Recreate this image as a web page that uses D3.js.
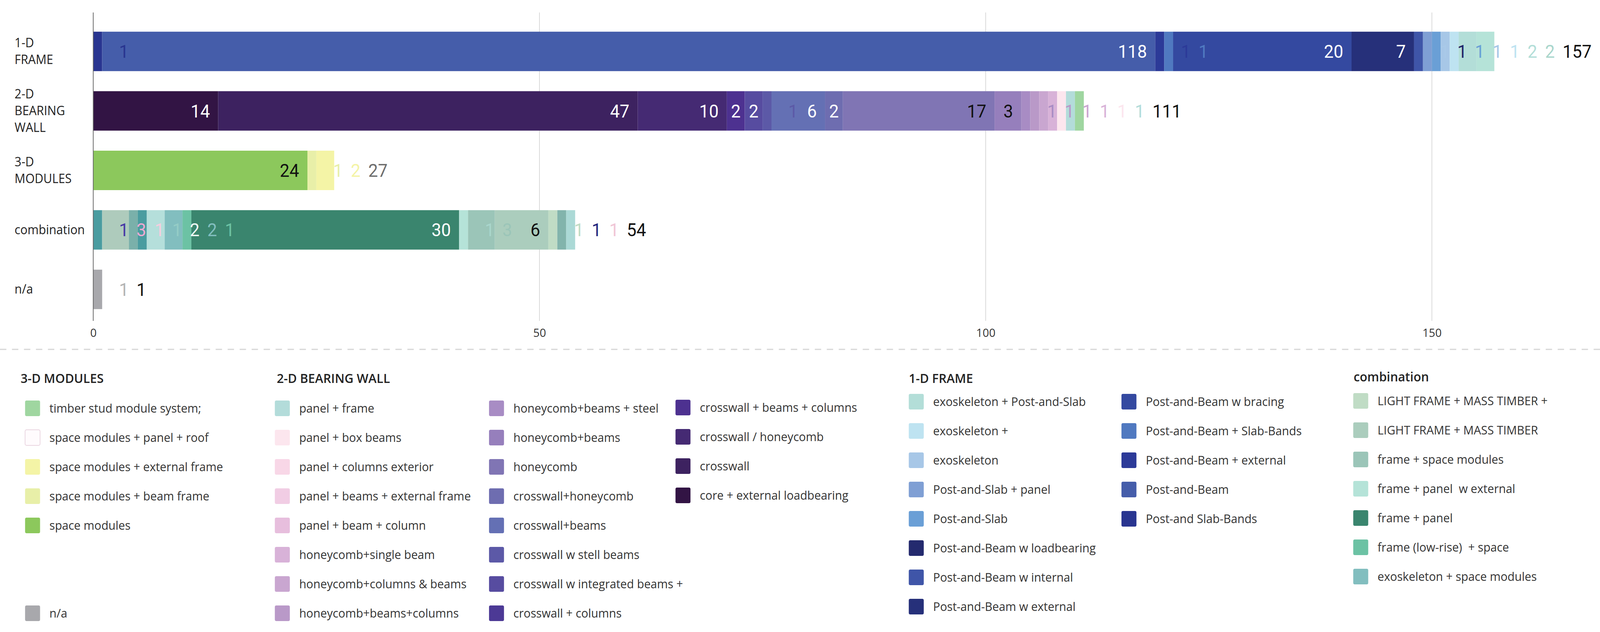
<!DOCTYPE html>
<html>
<head>
<meta charset="utf-8">
<script src="https://cdn.jsdelivr.net/npm/d3@7"></script>
<style>
  html, body { margin: 0; padding: 0; background: #fff; overflow: hidden; }
  svg { display: block; width: 100vw; height: 100vh; }
  text { white-space: pre; }
</style>
</head>
<body>
<svg id="chart"></svg>
<script>
const categories = ["1-D FRAME", "2-D BEARING WALL", "3-D MODULES", "combination", "n/a"];
const xTicks = [0, 50, 100, 150];

// pieces of each bar, left to right
const frameSeries = ["Post-and Slab-Bands", "Post-and-Beam", "Post-and-Beam + external", "Post-and-Beam + Slab-Bands",
  "Post-and-Beam w bracing", "Post-and-Beam w external", "Post-and-Beam w internal", "Post-and-Slab + panel",
  "Post-and-Slab", "exoskeleton", "exoskeleton +", "exoskeleton + Post-and-Slab", "frame + panel  w external"];
const frameValues = [1, 118, 1, 1, 20, 7, 1, 1, 1, 1, 1, 2, 2];

const wallSeries = ["core + external loadbearing", "crosswall", "crosswall / honeycomb", "crosswall + beams + columns",
  "crosswall w integrated beams +", "crosswall w stell beams", "crosswall+beams", "crosswall+honeycomb", "honeycomb",
  "honeycomb+beams", "honeycomb+beams + steel", "honeycomb+beams+columns", "honeycomb+columns & beams",
  "honeycomb+single beam", "panel + box beams", "panel + frame", "timber stud module system;"];
const wallValues = [14, 47, 10, 2, 2, 1, 6, 2, 17, 3, 1, 1, 1, 1, 1, 1, 1];

const moduleSeries = ["space modules", "space modules + beam frame", "space modules + external frame"];
const moduleValues = [24, 1, 2];

const comboSeries = ["other 1", "other 2", "other 3", "other 4", "other 5", "exoskeleton + space modules",
  "frame (low-rise)  + space", "frame + panel", "frame + panel  w external", "frame + space modules",
  "LIGHT FRAME + MASS TIMBER", "LIGHT FRAME + MASS TIMBER +", "other 6", "other 7"];
const comboValues = [1, 3, 1, 1, 2, 2, 1, 30, 1, 3, 6, 1, 1, 1];

const naSeries = ["n/a"];
const naValues = [1];

// legend lists
const legend3D = ["timber stud module system;", "space modules + panel + roof", "space modules + external frame",
  "space modules + beam frame", "space modules"];
const legend2D = ["panel + frame", "panel + box beams", "panel + columns exterior", "panel + beams + external frame",
  "panel + beam + column", "honeycomb+single beam", "honeycomb+columns & beams", "honeycomb+beams+columns",
  "honeycomb+beams + steel", "honeycomb+beams", "honeycomb", "crosswall+honeycomb", "crosswall+beams",
  "crosswall w stell beams", "crosswall w integrated beams +", "crosswall + columns",
  "crosswall + beams + columns", "crosswall / honeycomb", "crosswall", "core + external loadbearing"];
const legend1D = ["exoskeleton + Post-and-Slab", "exoskeleton +", "exoskeleton", "Post-and-Slab + panel", "Post-and-Slab",
  "Post-and-Beam w loadbearing", "Post-and-Beam w internal", "Post-and-Beam w external",
  "Post-and-Beam w bracing", "Post-and-Beam + Slab-Bands", "Post-and-Beam + external", "Post-and-Beam", "Post-and Slab-Bands"];
const legendCombo = ["LIGHT FRAME + MASS TIMBER +", "LIGHT FRAME + MASS TIMBER", "frame + space modules",
  "frame + panel  w external", "frame + panel", "frame (low-rise)  + space", "exoskeleton + space modules"];

// colours
const colors = {
  "timber stud module system;": "#9fd6a0", "space modules + panel + roof": "#fffbfd",
  "space modules + external frame": "#f4f4a6", "space modules + beam frame": "#e8efa8", "space modules": "#8cc85c",
  "n/a": "#a8a8ac",
  "panel + frame": "#b3dcda", "panel + box beams": "#fce6ee", "panel + columns exterior": "#f8d7e7",
  "panel + beams + external frame": "#f1cde4", "panel + beam + column": "#e7bedd", "honeycomb+single beam": "#d8b2d8",
  "honeycomb+columns & beams": "#c9a6d0", "honeycomb+beams+columns": "#b999c8", "honeycomb+beams + steel": "#a88cc4",
  "honeycomb+beams": "#967fbc", "honeycomb": "#8075b4", "crosswall+honeycomb": "#6e6db0", "crosswall+beams": "#6470b4",
  "crosswall w stell beams": "#5c59a7", "crosswall w integrated beams +": "#574ca0", "crosswall + columns": "#4c3995",
  "crosswall + beams + columns": "#4d3190", "crosswall / honeycomb": "#452a73", "crosswall": "#3d2260",
  "core + external loadbearing": "#321444",
  "exoskeleton + Post-and-Slab": "#b3ded8", "exoskeleton +": "#bee3f1", "exoskeleton": "#a7c7e7",
  "Post-and-Slab + panel": "#7f9fd4", "Post-and-Slab": "#6a9fd6", "Post-and-Beam w loadbearing": "#242a6e",
  "Post-and-Beam w internal": "#3f55a8", "Post-and-Beam w external": "#26307a", "Post-and-Beam w bracing": "#3449a0",
  "Post-and-Beam + Slab-Bands": "#5079c0", "Post-and-Beam + external": "#2c3a98", "Post-and-Beam": "#455daa",
  "Post-and Slab-Bands": "#293590",
  "LIGHT FRAME + MASS TIMBER +": "#c0dcc5", "LIGHT FRAME + MASS TIMBER": "#abcdbd", "frame + space modules": "#9bc5b8",
  "frame + panel  w external": "#b5e3d8", "frame + panel": "#3a856e", "frame (low-rise)  + space": "#6cc2a4",
  "exoskeleton + space modules": "#82bebf",
  "other 1": "#4a9ca0", "other 2": "#aecbbc", "other 3": "#7ab0aa", "other 4": "#4a9ca0", "other 5": "#b5dfdb",
  "other 6": "#82b4ac", "other 7": "#abd9d6"
};
// colour of a label that sits outside its own piece (null: no label)
const labelColors = {
  "Post-and-Beam w internal": "#a9c9e8", "Post-and-Slab + panel": "#1f2468",
  "timber stud module system;": null, "frame + panel  w external": "#a9d6cc",
  "other 1": "#4838a6", "other 2": "#efa8d2", "other 3": "#f5cedf", "other 4": "#95ccc6", "other 5": "#eef8f5",
  "other 6": "#23267e", "other 7": "#f0c6d6", "n/a": "#b4b4b4"
};
const totalColors = { "3-D MODULES": "#6e6e6e" };

const bars = categories.map((c, i) => ({
  category: c,
  series: [frameSeries, wallSeries, moduleSeries, comboSeries, naSeries][i],
  values: [frameValues, wallValues, moduleValues, comboValues, naValues][i]
}));

const W = 4273, H = 1619;
const svg = d3.select("#chart").attr("viewBox", `0 0 ${W} ${H}`).attr("preserveAspectRatio", "none");

const x = d3.scaleLinear().domain([0, 150]).range([249, 3824]);
const y = d3.scaleBand().domain(categories).range([55.5, 817.5]).paddingInner(0.337).paddingOuter(0.1685);
const plotTop = 32, plotBottom = 822;

// grid
svg.append("g").selectAll("line").data(xTicks.filter(t => t > 0)).join("line")
  .attr("x1", d => x(d)).attr("x2", d => x(d)).attr("y1", plotTop).attr("y2", plotBottom)
  .attr("stroke", "#d9d9d9").attr("stroke-width", 2);

// x axis labels
const xAxis = svg.append("g").attr("transform", `translate(0,${plotBottom})`)
  .call(d3.axisBottom(x).tickValues(xTicks).tickSize(0).tickPadding(20));
xAxis.select(".domain").remove();
xAxis.selectAll("text").attr("font-family", "Open Sans, sans-serif").attr("font-size", 30).attr("fill", "#333");

// category labels
const cat = svg.append("g");
categories.forEach(c => {
  const lines = c.split(" ");
  const cy = y(c) + y.bandwidth() / 2;
  lines.forEach((l, i) => {
    cat.append("text").attr("x", 39).attr("y", cy + (i - (lines.length - 1) / 2) * 43).attr("dy", "0.34em")
      .attr("font-family", "Open Sans, sans-serif").attr("font-size", 32).attr("fill", "#222").text(l);
  });
});

// bars
const rectG = svg.append("g");
const labelG = svg.append("g").attr("font-family", "Roboto, sans-serif").attr("font-size", 46);

bars.forEach(bar => {
  const top = y(bar.category), h = y.bandwidth(), cy = top + h / 2;
  let acc = 0, prevRight = -Infinity;
  bar.values.forEach((v, j) => {
    const name = bar.series[j], col = colors[name];
    const xa = x(acc), xb = x(acc + v);
    rectG.append("rect").attr("x", xa).attr("y", top).attr("width", xb - xa).attr("height", h).attr("fill", col);
    acc += v;
    if (labelColors[name] === null) return;
    const t = labelG.append("text").attr("y", cy).attr("dy", "0.36em").text(v);
    const w = t.node().getComputedTextLength();
    const segW = xb - xa;
    let left = segW - w >= 10 ? xb - Math.min(22, (segW - w) / 2) - w : xb + 45;
    left = Math.max(left, prevRight + 21);
    const inside = left >= xa && left + w <= xb + 0.5;
    const fill = inside ? (d3.lab(col).l > 51.5 ? "#111" : "#fff") : (labelColors[name] || col);
    t.attr("x", left).attr("fill", fill);
    prevRight = left + w;
  });
  const tot = labelG.append("text").attr("y", cy).attr("dy", "0.36em")
    .attr("fill", totalColors[bar.category] || "#111").text(acc);
  tot.attr("x", Math.max(x(acc) + 45, prevRight + 21));
});

// axis line
svg.append("line").attr("x1", x(0)).attr("x2", x(0)).attr("y1", plotTop).attr("y2", plotBottom)
  .attr("stroke", "#666").attr("stroke-width", 2);

// separator
svg.append("line").attr("x1", 0).attr("x2", W).attr("y1", 895).attr("y2", 895)
  .attr("stroke", "#d6d6d6").attr("stroke-width", 3).attr("stroke-dasharray", "17,15");

// legend
const legendLayout = [
  { title: "3-D MODULES", tx: 55, ty: 969, cols: [{ x: 67, y: 1046, items: legend3D }, { x: 67, y: 1571, items: ["n/a"] }] },
  { title: "2-D BEARING WALL", tx: 739, ty: 969, cols: [
    { x: 734, y: 1046, items: legend2D.slice(0, 8) },
    { x: 1306, y: 1046, items: legend2D.slice(8, 16) },
    { x: 1804, y: 1044, items: legend2D.slice(16) }] },
  { title: "1-D FRAME", tx: 2427, ty: 969, cols: [
    { x: 2427, y: 1029, items: legend1D.slice(0, 8) },
    { x: 2995, y: 1029, items: legend1D.slice(8) }] },
  { title: "combination", tx: 3615, ty: 965, cols: [{ x: 3614, y: 1027, items: legendCombo }] }
];
const leg = svg.append("g").attr("font-family", "Open Sans, sans-serif");
legendLayout.forEach(grp => {
  leg.append("text").attr("x", grp.tx).attr("y", grp.ty).attr("dy", "0.35em")
    .attr("font-size", 33).attr("font-weight", 600).attr("fill", "#222").text(grp.title);
  grp.cols.forEach(c => {
    c.items.forEach((name, i) => {
      const cy = c.y + i * 75;
      leg.append("rect").attr("x", c.x).attr("y", cy - 20).attr("width", 40).attr("height", 40).attr("rx", 4)
        .attr("fill", colors[name])
        .attr("stroke", name === "space modules + panel + roof" ? "#ead6e1" : "none").attr("stroke-width", 2);
      leg.append("text").attr("x", c.x + 65).attr("y", cy).attr("dy", "0.35em")
        .attr("font-size", 31).attr("fill", "#333").text(name);
    });
  });
});
</script>
</body>
</html>
